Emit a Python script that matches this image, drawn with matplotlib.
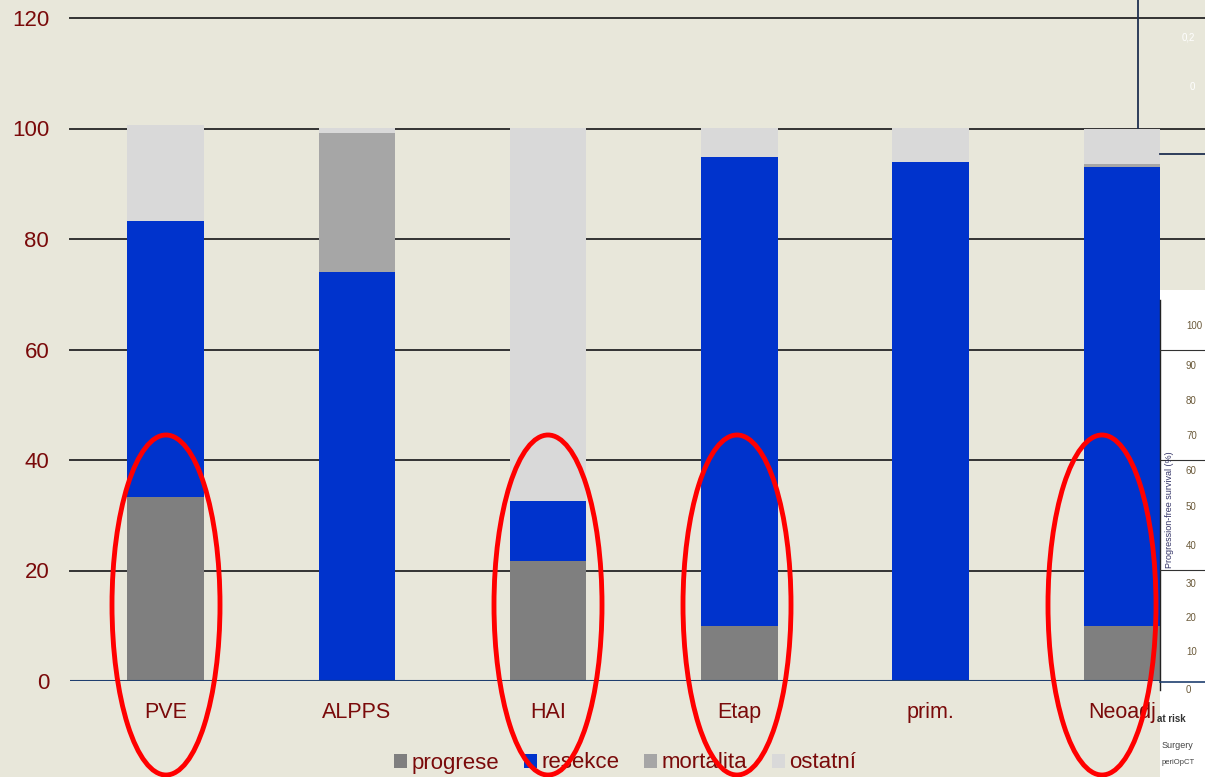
import numpy as np
import matplotlib.pyplot as plt
from matplotlib.patches import Ellipse, Rectangle
from matplotlib.lines import Line2D

plt.rcParams['font.family'] = ['Liberation Sans', 'DejaVu Sans']

# data (percent of patients)
categories = ["PVE", "ALPPS", "HAI", "Etap", "prim.", "Neoadj"]
progrese = [33.3, 0, 21.7, 9.9, 0, 9.9]
resekce = [49.9, 74.0, 10.9, 85.0, 94.0, 83.1]
mortalita = [0, 25.1, 0, 0, 0, 0.5]
ostatni = [17.5, 0.9, 67.4, 5.1, 6.0, 6.5]

series = [("progrese", progrese, "#7f7f7f"),
          ("resekce", resekce, "#0033cc"),
          ("mortalita", mortalita, "#a6a6a6"),
          ("ostatní", ostatni, "#d9d9d9")]

txt = "#7a0a0a"
bg = "#e8e7da"

fig = plt.figure(figsize=(12.05, 7.77), dpi=100)
fig.patch.set_facecolor(bg)
W, H = 1205, 777

ax = fig.add_axes([70 / W, 1 - 681 / H, 1147.5 / W, 663 / H])
ax.set_facecolor("none")

x = np.arange(len(categories))
bottom = np.zeros(len(categories))
for name, vals, col in series:
    ax.bar(x, vals, 0.4, bottom=bottom, color=col, label=name, zorder=3)
    bottom += np.array(vals)

ax.set_xlim(-0.5, 5.5)
ax.set_ylim(0, 120)
ax.set_yticks(np.arange(0, 121, 20))
for yv in np.arange(20, 121, 20):
    ax.axhline(yv, color="#333333", linewidth=1.4, zorder=1, clip_on=False)
ax.axhline(0, color="#1f3f6f", linewidth=1.5, zorder=4)
for s in ax.spines.values():
    s.set_visible(False)
ax.set_xticks(x)
ax.set_xticklabels(categories)
ax.tick_params(axis="x", length=0, pad=15, labelsize=15.5, labelcolor=txt)
ax.tick_params(axis="y", length=0, pad=15, labelsize=16, labelcolor=txt)

leg = fig.legend(loc="center", bbox_to_anchor=(625 / W, 1 - 763 / H), ncol=4,
                 frameon=False, fontsize=16, handlelength=0.6, handleheight=0.6,
                 handletextpad=0.2, columnspacing=1.1, borderaxespad=0)
for t in leg.get_texts():
    t.set_color(txt)

# overlapping survival-plot fragment on the right edge
fig.add_artist(Rectangle((1160 / W, 0), 45 / W, 1 - 290 / H, transform=fig.transFigure,
                         facecolor="white", edgecolor="none", zorder=5))
fig.add_artist(Line2D([1160 / W, 1160 / W], [1 - 690 / H, 1 - 300 / H], transform=fig.transFigure,
                      color="#222222", lw=1, zorder=6))
fig.add_artist(Line2D([1160 / W, 1205 / W], [1 - 682 / H, 1 - 682 / H], transform=fig.transFigure,
                      color="#1f3f6f", lw=1.2, zorder=6))
for yy in [350, 460, 570]:
    fig.add_artist(Line2D([1160 / W, 1205 / W], [1 - yy / H, 1 - yy / H], transform=fig.transFigure,
                          color="#333333", lw=0.8, zorder=6))
for lab, yy in [("100", 326), ("90", 366), ("80", 401), ("70", 436), ("60", 471), ("50", 507),
                ("40", 546), ("30", 584), ("20", 618), ("10", 652), ("0", 690)]:
    fig.text(1186 / W, 1 - yy / H, lab, fontsize=7, color="#6b5a3a", va="center", ha="left", zorder=7)
fig.text(1170 / W, 1 - 510 / H, "Progression-free survival (%)", fontsize=6.5, color="#333366",
         rotation=90, ha="center", va="center", zorder=7)
fig.text(1157 / W, 1 - 719 / H, "at risk", fontsize=7, color="#333333", fontweight="bold", va="center", zorder=7)
fig.text(1162 / W, 1 - 745 / H, "Surgery", fontsize=6.5, color="#444444", va="center", zorder=7)
fig.text(1162 / W, 1 - 763 / H, "periOpCT", fontsize=5.5, color="#444444", va="center", zorder=7)
fig.add_artist(Line2D([1138 / W, 1138 / W], [1 - 128 / H, 1], transform=fig.transFigure,
                      color="#1f3050", lw=1.3, zorder=6))
fig.add_artist(Line2D([1160 / W, 1205 / W], [1 - 154 / H, 1 - 154 / H], transform=fig.transFigure,
                      color="#1f3050", lw=1.3, zorder=6))
fig.text(1182 / W, 1 - 38 / H, "0,2", fontsize=7, color="white", va="center", zorder=7)
fig.text(1190 / W, 1 - 87 / H, "0", fontsize=7, color="white", va="center", zorder=7)

# red ovals around the selected bars
for cx in [166, 548, 737, 1102]:
    fig.add_artist(Ellipse((cx / W, 1 - 605 / H), 108 / W, 340 / H, transform=fig.transFigure,
                           fill=False, edgecolor="#ff0000", lw=3.5, zorder=8))

fig.savefig("out.png", dpi=100, facecolor=bg)
